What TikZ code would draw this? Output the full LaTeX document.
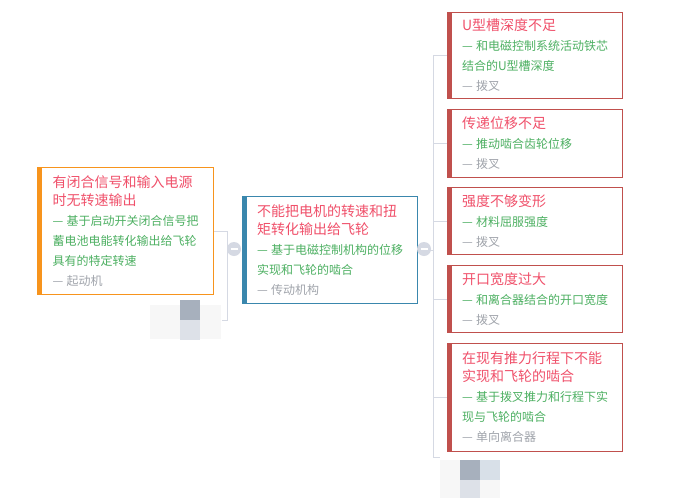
\documentclass[tikz,border=0pt]{standalone}
\usepackage{fontspec}
\setmainfont{Noto Sans CJK SC}
\XeTeXdashbreakstate=0
\usetikzlibrary{positioning,calc}
\definecolor{titlered}{HTML}{F0506A}
\definecolor{notegreen}{HTML}{4DB062}
\definecolor{srcgray}{HTML}{A0A4AB}
\definecolor{linkgray}{HTML}{D5D9E3}
\definecolor{orangebar}{HTML}{F7941D}
\definecolor{bluebar}{HTML}{3A87AD}
\definecolor{redbar}{HTML}{C0504D}
\definecolor{wmdark}{HTML}{A7B0BD}
\definecolor{wmblue}{HTML}{D8E0E8}
\definecolor{wmlight}{HTML}{DDE1E8}
\newcommand{\mmtopic}[3]{%
{\fontsize{14pt}{18pt}\selectfont\color{titlered}#1\par}%
{\fontsize{12pt}{20pt}\selectfont\color{notegreen}\textemdash~#2\par}%
{\fontsize{12pt}{20pt}\selectfont\color{srcgray}\textemdash~#3\par}}

\begin{document}
\begin{tikzpicture}[x=1pt,y=-1pt,line width=1pt,node distance=10pt,
topic node/.style={rectangle,draw,fill=white,anchor=north west,text width=146pt,align=left,inner sep=0pt,minimum width=175pt},
link/.style={draw=linkgray,line width=1pt},
fold node/.style={circle,fill=linkgray,minimum size=14pt,inner sep=0pt}]
\fill[white] (0,0) rectangle (688,498);
\useasboundingbox (0,0) rectangle (688,498);
% watermark blobs
\node[minimum width=66pt,minimum height=40pt,inner sep=0pt] (wm1) at (188,320) {};
\fill[black!3] (150,305) rectangle (221,339);
\fill[wmlight] (180,320) rectangle (200,340);
\fill[wmdark] (180,300) rectangle (200,320);
\node[minimum width=60pt,minimum height=40pt,inner sep=0pt] (wm2) at (470,478) {};
\fill[black!3] (440,460) rectangle (500,498);
\fill[wmdark] (460,460) rectangle (480,480);
\fill[wmblue] (480,460) rectangle (500,480);
\fill[wmlight] (460,480) rectangle (480,498);
% topics
\node[topic node,draw=orangebar,minimum width=176pt,minimum height=127pt] (qd) at (37,167)
 {\mmtopic{有闭合信号和输入电源\\时无转速输出}{基于启动开关闭合信号把\\蓄电池电能转化输出给飞轮\\具有的特定转速}{起动机}};
\node[topic node,draw=bluebar,minimum height=107pt] (cd) at (242,196)
 {\mmtopic{不能把电机的转速和扭\\矩转化输出给飞轮}{基于电磁控制机构的位移\\实现和飞轮的啮合}{传动机构}};
\node[topic node,draw=redbar,minimum height=86pt] (r1) at (447,12)
 {\mmtopic{U型槽深度不足}{和电磁控制系统活动铁芯\\结合的U型槽深度}{拨叉}};
\node[topic node,draw=redbar,minimum height=68pt,below=of r1] (r2)
 {\mmtopic{传递位移不足}{推动啮合齿轮位移}{拨叉}};
\node[topic node,draw=redbar,minimum height=67pt,below=9pt of r2] (r3)
 {\mmtopic{强度不够变形}{材料屈服强度}{拨叉}};
\node[topic node,draw=redbar,minimum height=67pt,below=of r3] (r4)
 {\mmtopic{开口宽度过大}{和离合器结合的开口宽度}{拨叉}};
\node[topic node,draw=redbar,minimum height=108pt,below=of r4] (r5)
 {\mmtopic{在现有推力行程下不能\\实现和飞轮的啮合}{基于拨叉推力和行程下实\\现与飞轮的啮合}{单向离合器}};
% side bars
\fill[orangebar] (qd.north west) rectangle ([xshift=5pt]qd.south west);
\fill[bluebar] (cd.north west) rectangle ([xshift=5pt]cd.south west);
\foreach \n in {r1,r2,r3,r4,r5}
  \fill[redbar] (\n.north west) rectangle ([xshift=5pt]\n.south west);
% links
\draw[link] (qd.east) -| ($(wm1.east)+(6,0)$) -- (wm1.east);
\foreach \n in {r1,r2,r3,r4,r5}
  \draw[link] (cd.east) -- ++(15,0) |- (\n.west);
\draw[link] (cd.east) -- ++(15,0) |- (wm2.north west);
\node[fold node] (cl1) at (234,249) {\color{white}\rule{7pt}{1.6pt}};
\node[fold node] (cl2) at (424,249) {\color{white}\rule{7pt}{1.6pt}};
\end{tikzpicture}
\end{document}
